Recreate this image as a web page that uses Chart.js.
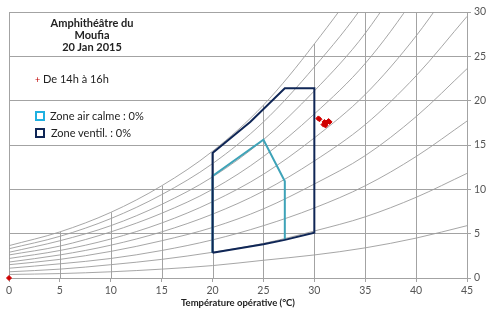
<!DOCTYPE html>
<html>
<head>
<meta charset="utf-8">
<script src="https://cdn.jsdelivr.net/npm/chart.js@4.4.1/dist/chart.umd.min.js"></script>
<style>
  html, body { margin: 0; padding: 0; background: #fff; }
  #wrap { position: relative; width: 491px; height: 309px; font-family: Lato, "Liberation Sans", sans-serif; }
  .t { position: absolute; font-size: 11px; color: #222; white-space: nowrap; line-height: 12px; }
  .sq { position: absolute; width: 6px; height: 6px; border: 2.5px solid; background: #fff; }
</style>
</head>
<body>
<div id="wrap">
  <canvas id="chart" width="491" height="309"></canvas>
  <div class="t" style="left:38px;top:17px;width:108px;text-align:center;font-weight:bold;">Amphithéâtre du<br>Moufia<br>20 Jan 2015</div>
  <div class="t" style="left:35px;top:73px;"><span style="color:#c00000;font-size:9px;">+</span> De 14h à 16h</div>
  <div class="sq" style="left:35px;top:111px;border-color:#1fb0e0;"></div>
  <div class="t" style="left:50px;top:110px;">Zone air calme : 0%</div>
  <div class="sq" style="left:35px;top:128px;border-color:#0f2656;"></div>
  <div class="t" style="left:51px;top:127px;">Zone ventil. : 0%</div>
</div>
<script>
// temperature (°C) and humidity (g/kg)
const tempC = [0, 5, 10, 15, 20, 25, 30, 35, 40, 45];
const rh10  = [0.4, 0.5, 0.7, 1.0, 1.4, 2.0, 2.6, 3.4, 4.5, 5.9];
const rh20  = [0.7, 1.0, 1.5, 2.1, 2.9, 3.9, 5.3, 6.9, 9.1, 11.8];
const rh30  = [1.1, 1.6, 2.2, 3.1, 4.3, 5.9, 7.9, 10.4, 13.7, 17.7];
const rh40  = [1.5, 2.1, 3.0, 4.2, 5.7, 7.8, 10.6, 13.8, 18.2, 23.6];
const rh50  = [1.8, 2.6, 3.7, 5.2, 7.2, 9.8, 13.2, 17.3, 22.8, 29.5];
const rh60  = [2.2, 3.1, 4.4, 6.2, 8.6, 11.7, 15.8, 20.7, 27.3, 35.4];
const rh70  = [2.6, 3.6, 5.2, 7.3, 10.0, 13.7, 18.5, 24.2, 31.9, 41.3];
const rh80  = [2.9, 4.2, 5.9, 8.3, 11.4, 15.6, 21.1, 27.6, 36.4, 47.2];
const rh90  = [3.3, 4.7, 6.7, 9.4, 12.9, 17.6, 23.8, 31.1, 41.0, 53.1];
const rh100 = [3.65, 5.2, 7.4, 10.4, 14.3, 19.5, 26.4, 34.5, 45.5, 59.0];
const rhCurves = [rh10, rh20, rh30, rh40, rh50, rh60, rh70, rh80, rh90, rh100];

const ventilX = [20, 25, 27.1, 30, 30, 27.1, 23.7, 20, 20];
const ventilY = [2.85, 3.8, 4.3, 5.1, 21.4, 21.4, 17.6, 14.1, 2.85];
const calmX = [20, 20, 25, 27.1, 27.1];
const calmY = [2.85, 11.5, 15.6, 10.9, 4.3];

const measX = [0, 30.4, 30.5, 30.9, 31.0, 31.2, 31.4, 31.5, 31.1];
const measY = [0, 18.0, 17.9, 17.3, 17.6, 17.5, 17.7, 17.6, 17.2];

const xTicks = tempC;
const gridColor = '#a3a3a3';

const toPoints = (xs, ys) => xs.map((x, i) => ({ x: x, y: ys[i] }));

const partialGrid = {
  id: 'partialGrid',
  beforeDatasetsDraw(chart) {
    const { ctx, scales: { x, y } } = chart;
    ctx.save();
    ctx.strokeStyle = gridColor;
    ctx.lineWidth = 1;
    xTicks.forEach((v, i) => {
      const top = i === 0 ? 30 : Math.min(rh100[i], 30);
      const px = Math.round(x.getPixelForValue(v)) + 0.5;
      ctx.beginPath();
      ctx.moveTo(px, y.getPixelForValue(0));
      ctx.lineTo(px, y.getPixelForValue(top));
      ctx.stroke();
    });
    ctx.restore();
  }
};

const datasets = rhCurves.map((c) => ({
  data: toPoints(tempC, c),
  showLine: true,
  borderColor: '#9c9c9c',
  borderWidth: 0.9,
  pointRadius: 0,
  cubicInterpolationMode: 'monotone',
  order: 5
}));

datasets.push({
  data: toPoints(ventilX, ventilY),
  showLine: true,
  borderColor: '#0f2656',
  borderWidth: 2,
  pointRadius: 0,
  order: 2
});
datasets.push({
  data: toPoints(calmX, calmY),
  showLine: true,
  borderColor: '#3ea3b8',
  borderWidth: 2,
  pointRadius: 0,
  order: 3
});
datasets.push({
  data: toPoints(measX, measY),
  showLine: false,
  pointStyle: 'rectRot',
  pointRadius: 2.5,
  backgroundColor: '#d00000',
  borderColor: '#d00000',
  borderWidth: 1,
  clip: false,
  order: 1
});

const ctx = document.getElementById('chart').getContext('2d');
new Chart(ctx, {
  type: 'scatter',
  data: { datasets: datasets },
  options: {
    responsive: false,
    animation: false,
    devicePixelRatio: 1,
    layout: { padding: { top: 12, left: 9, right: 0, bottom: 0 } },
    plugins: { legend: { display: false }, tooltip: { enabled: false } },
    scales: {
      x: {
        type: 'linear',
        min: 0,
        max: 45,
        ticks: { stepSize: 5, color: '#555', font: { family: 'Lato', size: 10.5 }, padding: 2 },
        grid: { drawOnChartArea: false, drawTicks: true, tickLength: 4, color: gridColor },
        border: { color: gridColor },
        title: {
          display: true,
          text: 'Température opérative (°C)',
          color: '#222',
          font: { family: 'Lato', size: 9.5, weight: 'bold' },
          padding: { top: 1, bottom: 0 }
        },
        afterFit(scale) { scale.height = 31; }
      },
      y: {
        type: 'linear',
        position: 'right',
        min: 0,
        max: 30,
        ticks: { stepSize: 5, color: '#555', font: { family: 'Lato', size: 10.5 }, padding: 3 },
        grid: { color: gridColor, tickLength: 4 },
        border: { color: gridColor },
        afterFit(scale) { scale.width = 24; }
      }
    }
  },
  plugins: [partialGrid]
});
</script>
</body>
</html>
